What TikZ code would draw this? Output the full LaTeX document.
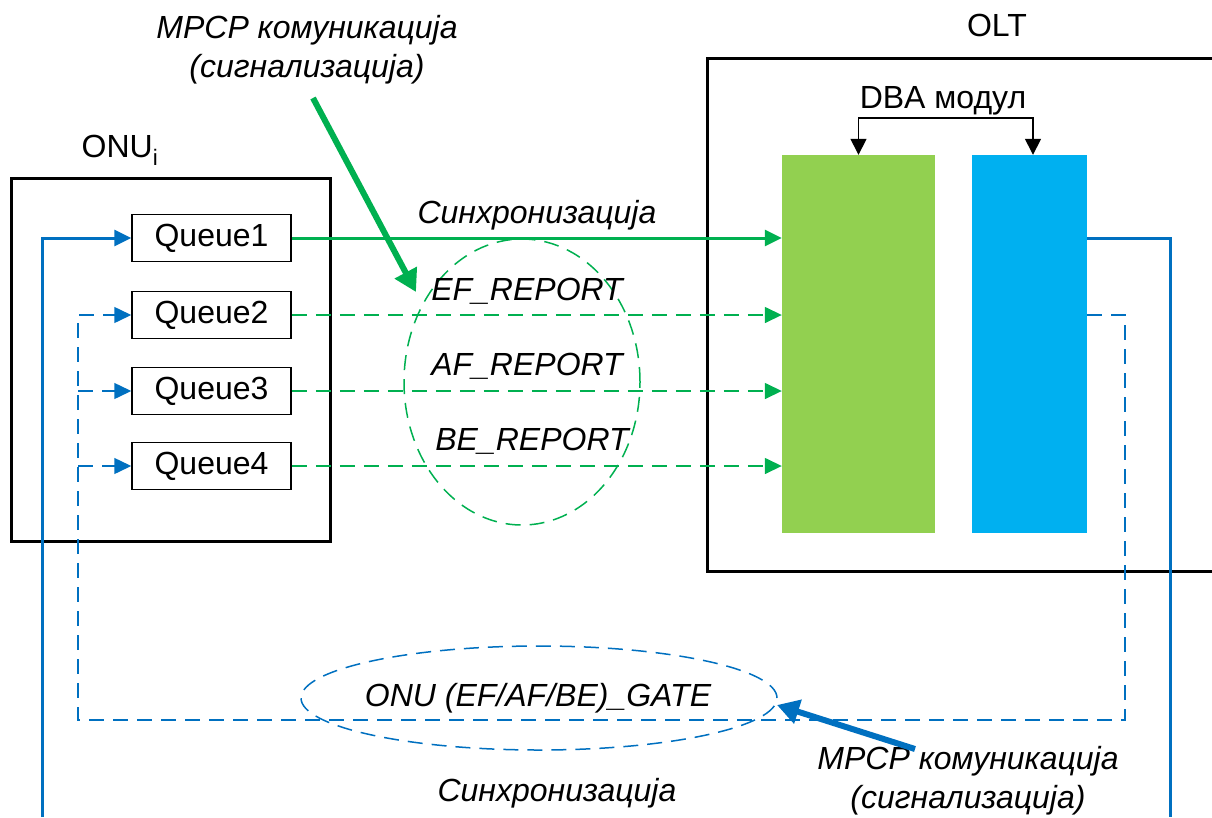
\documentclass[tikz,border=0pt]{standalone}
\usepackage{fontspec}
\setmainfont{Liberation Sans}
\usetikzlibrary{arrows.meta,shapes.geometric}
\definecolor{lgreen}{HTML}{00B050}
\definecolor{fgreen}{HTML}{92D050}
\definecolor{fblue}{HTML}{00B0F0}
\definecolor{lblue}{HTML}{0070C0}
\tikzset{
  txt/.style={font=\fontsize{32}{40}\selectfont, inner sep=0pt, align=center},
  itxt/.style={txt, font=\fontsize{32}{39}\selectfont\itshape},
  qbox/.style={draw, line width=1.5pt, minimum width=159pt, minimum height=47pt, inner sep=0pt, font=\fontsize{32}{40}\selectfont},
  tip/.style={-{Triangle[length=17pt,width=16pt]}},
  dsh/.style={dash pattern=on 15pt off 9pt},
  gline/.style={draw=lgreen, line width=3pt},
  gdash/.style={draw=lgreen, line width=1.5pt, dsh},
  bline/.style={draw=lblue, line width=3pt},
  bdash/.style={draw=lblue, line width=1.5pt, dsh},
}
\begin{document}
\begin{tikzpicture}[x=1pt,y=-1pt]
\useasboundingbox (0,0) rectangle (1212,817);
\clip (0,0) rectangle (1212,817);
% ONU
\node[draw, line width=3pt, minimum width=319pt, minimum height=363pt] (onu) at (170.5,359.5) {};
\node[txt] (onulbl) at (120,150) {ONU\textsubscript{i}};
\node[qbox] (q1) at (211.5,238) {Queue1};
\node[qbox] (q2) at (211.5,315) {Queue2};
\node[qbox] (q3) at (211.5,391) {Queue3};
\node[qbox] (q4) at (211.5,466) {Queue4};
% OLT
\node[draw, line width=3pt, minimum width=523pt, minimum height=513pt] (olt) at (968.5,314.5) {};
\node[txt] (oltlbl) at (997,25) {OLT};
\node[fill=fgreen, minimum width=153pt, minimum height=378pt, inner sep=0pt] (gr) at (858.5,344) {};
\node[fill=fblue, minimum width=115pt, minimum height=378pt, inner sep=0pt] (br) at (1029.5,344) {};
\node[txt] (dba) at (943,101) {DBA модул};
\draw[line width=1.5pt, {Triangle[length=16pt,width=16pt]}-{Triangle[length=16pt,width=16pt]}] (gr.north) -- ++(0,-37) -| ([xshift=3.5pt]br.north);
% report ellipse and labels
\node[draw=lgreen, line width=1.5pt, dsh, ellipse, minimum width=236pt, minimum height=286pt] (rep) at (522,382) {};
\node[itxt] (sync1) at (537,215) {Синхронизација};
\node[itxt] (ef) at (527,291) {EF\_REPORT};
\node[itxt] (af) at (527,366) {AF\_REPORT};
\node[itxt] (be) at (532,441) {BE\_REPORT};
% green connectors
\draw[gline, tip] (q1.east) -- (gr.west |- q1.east);
\draw[gdash, tip] (q2.east) -- (gr.west |- q2.east);
\draw[gdash, tip] (q3.east) -- (gr.west |- q3.east);
\draw[gdash, tip] (q4.east) -- (gr.west |- q4.east);
% blue solid loop
\coordinate (bl) at (42,817);
\coordinate (br2) at (1170,817);
\draw[bline, tip] (bl) |- (q1.west);
\draw[bline] (br.east |- q1.east) -| (br2);
% blue dashed loop
\coordinate (dl) at (78,720);
\coordinate (dr) at (1125,720);
\draw[bdash, tip] (br.east |- q2.east) -| (dr) -- (dl) |- (q2.west);
\draw[bdash, tip] (dl |- q3.west) -- (q3.west);
\draw[bdash, tip] (dl |- q4.west) -- (q4.west);
% gate ellipse
\node[draw=lblue, line width=1.5pt, dsh, ellipse, minimum width=476pt, minimum height=104pt, inner sep=0pt] (gate) at (539,698) {};
\node[itxt] (gatelbl) at (538,698) {ONU (EF/AF/BE)\_GATE};
\node[itxt] (sync2) at (557,793) {Синхронизација};
% MPCP labels and pointers
\node[itxt] (mpcp1) at (307,50) {MPCP комуникација\\(сигнализација)};
\coordinate (m1s) at (313,98);
\coordinate (m1e) at (416,292);
\draw[draw=lgreen, line width=6pt, -{Triangle[length=22pt,width=24pt]}] (m1s) -- (m1e);
\node[itxt] (mpcp2) at (968,781) {MPCP комуникација\\(сигнализација)};
\coordinate (m2s) at (915,749);
\coordinate (m2e) at (777,705);
\draw[draw=lblue, line width=6pt, -{Triangle[length=22pt,width=24pt]}] (m2s) -- (m2e);
\end{tikzpicture}
\end{document}
